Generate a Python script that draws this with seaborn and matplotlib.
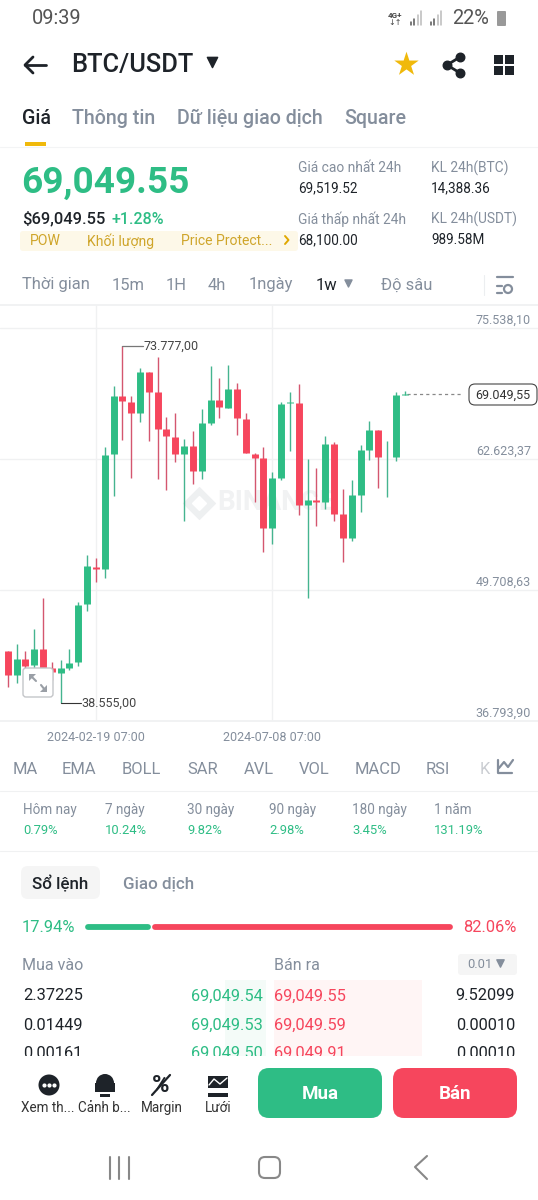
#!/usr/bin/env python3

import matplotlib
matplotlib.use("Agg")
import matplotlib.pyplot as plt
from matplotlib.patches import FancyBboxPatch, Rectangle, Circle, Polygon
import pandas
import seaborn as sns

GREEN = "#2ebd85"
RED = "#f6465d"
GRAY = "#848e9c"
DARK = "#1e2329"

# Weekly candles
opens = [39948, 43724, 41328, 42905, 42314, 43861, 42018, 41555, 41988, 42580, 48298, 52005,
         51749, 63086, 68834, 68272, 67158, 71171, 69258, 65551, 64821, 63086, 63905, 61411,
         66202, 68410, 67681, 69524, 66567, 63165, 62692, 55820, 60750, 68114, 68144, 58118,
         58581, 58384, 64131, 57230, 54835, 59074, 63481, 65512, 62790, 62790, 68982]
closes = [43724, 41328, 42905, 42245, 43861, 42018, 41624, 41988, 42511, 48259, 52074, 51749,
          63018, 68834, 68341, 67158, 71171, 69258, 65611, 64891, 63086, 63905, 61411, 66172,
          68410, 67720, 69524, 66635, 63185, 62722, 55820, 60720, 68075, 68213, 58118, 58581,
          58384, 64102, 57230, 54835, 59074, 63481, 65512, 62790, 62850, 68903, 69049.55]
highs = [43990, 43724, 44355, 43724, 45833, 48890, 42639, 42807, 43861, 48554, 53159, 52863,
         63836, 69850, 73777, 68834, 71624, 71171, 72650, 66734, 67129, 64595, 65413, 67553,
         71822, 70579, 71891, 70086, 67158, 63244, 63776, 61312, 68272, 69258, 69988, 62623,
         61706, 64861, 64328, 59695, 60523, 64033, 66370, 65512, 64398, 69258, 69357]
lows = [39652, 40174, 40509, 41821, 42018, 41624, 40835, 38555, 41821, 42245, 47667, 50497,
        50861, 58975, 64496, 60720, 66301, 64427, 60622, 59567, 62357, 56481, 60129, 60681,
        66005, 66635, 67621, 65019, 63185, 58354, 53425, 54243, 60583, 63412, 57072, 48949,
        56047, 57723, 56511, 52498, 54539, 57427, 62494, 59764, 58906, 62455, 68982]

grid_prices = [75538.10, 62623.37, 49708.63, 36793.90]
grid_labels = ["75.538,10", "62.623,37", "49.708,63", "36.793,90"]
date_idx = [11, 31]
date_labels = ["2024-02-19 07:00", "2024-07-08 07:00"]
high_idx, high_price, high_label = 14, 73777, "73.777,00"
low_idx, low_price, low_label = 7, 38555, "38.555,00"
last_price, last_label = 69049.55, "69.049,55"

main_tabs = [("Giá", 22), ("Thông tin", 72), ("Dữ liệu giao dịch", 177), ("Square", 344)]
intervals = [("Thời gian", 22), ("15m", 112), ("1H", 166), ("4h", 208), ("1ngày", 249),
             ("1w", 316), ("Độ sâu", 381)]
indicators = [("MA", 13), ("EMA", 62), ("BOLL", 122), ("SAR", 187), ("AVL", 244),
              ("VOL", 299), ("MACD", 355), ("RSI", 426)]
periods = [("Hôm nay", "0.79%", 23), ("7 ngày", "10.24%", 105), ("30 ngày", "9.82%", 187),
           ("90 ngày", "2.98%", 269), ("180 ngày", "3.45%", 352), ("1 năm", "131.19%", 434)]
book_rows = [("2.37225", "69,049.54", "69,049.55", "9.52099", 995),
             ("0.01449", "69,049.53", "69,049.59", "0.00010", 1024),
             ("0.00161", "69,049.50", "69,049.91", "0.00010", 1052)]
tools = [("Xem th...", 21), ("Cảnh b...", 78), ("Margin", 141), ("Lưới", 205)]
buy_share, sell_share = 17.94, 82.06

sns.set_theme(style="white")
plt.rcParams["font.family"] = ["Roboto", "Noto Sans", "DejaVu Sans"]

fig = plt.figure(figsize=(5.38, 12), dpi=100)

# Candle chart spans y 305..721 px, one candle every 8.82 px
ax = fig.add_axes([0, (1200 - 721) / 1200, 1, (721 - 305) / 1200])
px_per_price = 131 / (grid_prices[0] - grid_prices[1])

rows_wick = []
rows_body = []
for i in range(len(opens)):
    side = "up" if closes[i] >= opens[i] else "down"
    for p in (lows[i], highs[i]):
        rows_wick.append({"idx": i, "price": p, "candle": i, "side": side})
    for p in (opens[i], closes[i]):
        rows_body.append({"idx": i, "price": p, "candle": i, "side": side})
wicks = pandas.DataFrame(rows_wick)
bodies = pandas.DataFrame(rows_body)

sns.lineplot(data=wicks, x="idx", y="price", units="candle", hue="side", estimator=None,
             palette={"up": "#45b48f", "down": "#d4566f"}, linewidth=1.0, legend=False,
             sort=False, solid_capstyle="butt", ax=ax, zorder=3)
sns.lineplot(data=bodies, x="idx", y="price", units="candle", hue="side", estimator=None,
             palette={"up": GREEN, "down": RED}, linewidth=5.0, legend=False,
             sort=False, solid_capstyle="butt", ax=ax, zorder=4)

ax.set_xlim(0.125, 61.125)
ax.set_ylim(grid_prices[3], grid_prices[3] + 416 / px_per_price)
ax.set_xlabel("")
ax.set_ylabel("")
ax.set_yticks(grid_prices)
ax.set_yticklabels([])
ax.set_xticks(date_idx)
ax.set_xticklabels(date_labels, fontsize=9, color=GRAY)
ax.tick_params(axis="both", length=0, pad=7)
ax.grid(True, color="#f0f1f2", linewidth=1.0)
ax.set_axisbelow(True)
for name in ("left", "right"):
    ax.spines[name].set_visible(False)
for name in ("top", "bottom"):
    ax.spines[name].set_color("#f0f1f2")

for price, label in zip(grid_prices, grid_labels):
    ax.annotate(label, xy=(1, price), xycoords=ax.get_yaxis_transform(), xytext=(-7, 8),
                textcoords="offset pixels", ha="right", va="center", fontsize=9, color=GRAY)

# High, low and last price labels
ax.plot([high_idx, high_idx + 2.35], [high_price, high_price], color="#777777", lw=0.9, zorder=3)
ax.annotate(high_label, xy=(high_idx + 2.4, high_price), ha="left", va="center",
            fontsize=9, color="#444444")
ax.plot([low_idx, low_idx + 2.35], [low_price, low_price], color="#333333", lw=0.8, zorder=3)
ax.annotate(low_label, xy=(low_idx + 2.4, low_price), ha="left", va="center",
            fontsize=9, color="#444444")
ax.plot([46.3, 52.5], [last_price, last_price], color="#888888", lw=0.9, ls=(0, (2.5, 2.5)), zorder=3)

# Everything else is drawn on a pixel canvas above the chart
ui = fig.add_axes([0, 0, 1, 1], zorder=5)
ui.set_xlim(0, 538)
ui.set_ylim(1200, 0)
ui.axis("off")
ui.patch.set_alpha(0)

# Watermark sits under the candles, so it goes on the chart axes
ax.text(217, 503, "BINANCE", transform=ui.transData, fontsize=20, fontweight="bold",
        color="#f1f2f3", ha="left", va="center", zorder=1)
ax.scatter([199], [503], marker="D", s=260, color="#eef0f1", transform=ui.transData, zorder=1)
ax.scatter([199], [503], marker="D", s=50, color="white", transform=ui.transData, zorder=1.5)


def txt(x, y, s, px=14, color=GRAY, weight="normal", ha="left", **kw):
    ui.text(x, y + 1, s, fontsize=px * 0.72, color=color, fontweight=weight, ha=ha, va="center", **kw)


def box(x0, y0, x1, y1, face, radius=0, edge="none", lw=0, z=1):
    if radius:
        ui.add_patch(FancyBboxPatch((x0 + radius, y0 + radius), x1 - x0 - 2 * radius,
                                    y1 - y0 - 2 * radius, boxstyle=f"round,pad={radius}",
                                    fc=face, ec=edge, lw=lw, zorder=z))
    else:
        ui.add_patch(Rectangle((x0, y0), x1 - x0, y1 - y0, fc=face, ec=edge, lw=lw, zorder=z))


# Last price tag
box(469, 384, 537, 405, "white", radius=6, edge="#444444", lw=0.8)
txt(503, 394, last_label, px=12.5, color="#333333", ha="center", zorder=3)

# Expand button over the candles
box(23, 668, 53, 697, "white", radius=3, edge="#c4c6c9", lw=1)
ui.plot([31, 36], [676, 681], color="#9a9fa6", lw=1.5, zorder=3)
ui.plot([41, 45], [685, 690], color="#9a9fa6", lw=1.5, zorder=3)
ui.add_patch(Polygon([[29, 674], [36, 674], [29, 681]], fc="#9a9fa6", ec="none", zorder=3))
ui.add_patch(Polygon([[47, 692], [40, 692], [47, 685]], fc="#9a9fa6", ec="none", zorder=3))

# Status bar
txt(32, 18, "09:39", px=20, color="#555555")
txt(452, 18, "22%", px=20, color="#555555")
txt(395, 14, "4G+", px=8, color="#444444", ha="center", weight="bold")
txt(395, 22, "↓↑", px=8, color="#444444", ha="center")
for x0 in (411, 431):
    for k, h in enumerate([3, 6, 10, 14]):
        ui.plot([x0 + k * 3.4] * 2, [25, 25 - h], color="#555555" if k < 2 else "#bbbbbb", lw=1.1)
box(497, 11, 506, 26, "#999999", radius=1)

# Header
ui.plot([25, 46], [65, 65], color=DARK, lw=2)
ui.plot([33, 25, 33], [57, 65, 73], color=DARK, lw=2)
txt(71.5, 64, "BTC/USDT", px=25.5, color=DARK, weight="medium")
ui.scatter([212], [62], marker="v", s=55, color=DARK)
ui.scatter([406], [64], marker="*", s=340, color="#f0b90b", linewidths=0)
ui.plot([460, 447, 460], [57, 65, 73], color=DARK, lw=2)
ui.scatter([460, 447, 460], [57, 65, 73], s=38, color=DARK)
for bx, by in ((494, 55), (505, 55), (494, 66), (505, 66)):
    box(bx, by, bx + 8.5, by + 8.5, DARK)

# Tabs
for k, (label, x) in enumerate(main_tabs):
    txt(x, 117, label, px=19.6, color=DARK if k == 0 else GRAY, weight="medium")
box(25, 142, 46, 146, "#f0b90b")
ui.plot([0, 538], [147, 147], color="#f3f4f5", lw=0.8)

# Price block
txt(21, 182, "69,049.55", px=37, color=GREEN, weight="bold")
txt(22, 218, "$69,049.55", px=16.5, color=DARK, weight="medium")
txt(111, 218, "+1.28%", px=16, color=GREEN, weight="medium")
box(20, 231, 298, 251, "#fdf8e8", radius=3)
for label, x in (("POW", 30), ("Khối lượng", 87), ("Price Protect...", 181)):
    txt(x, 240, label, px=14, color="#cfa52a")
ui.plot([285, 288.5, 285], [236, 240, 244], color="#e0a800", lw=1.4)
for x, top, val_top, low, val_low in ((298, "Giá cao nhất 24h", "69,519.52", "Giá thấp nhất 24h", "68,100.00"),
                                      (431, "KL 24h(BTC)", "14,388.36", "KL 24h(USDT)", "989.58M")):
    txt(x, 167, top, px=13.7)
    txt(x, 187, val_top, px=13.5, color=DARK)
    txt(x, 218, low, px=13.7)
    txt(x, 239, val_low, px=13.5, color=DARK)

# Interval row
for label, x in intervals:
    txt(x, 284, label, px=16.5, color=DARK if label == "1w" else GRAY)
ui.scatter([348], [283], marker="v", s=26, color=GRAY)
ui.plot([484, 484], [275, 295], color="#eceef0", lw=0.8)
ui.plot([497, 513], [277, 277], color=GRAY, lw=1.6)
ui.plot([497, 502], [286, 286], color=GRAY, lw=1.6)
ui.plot([497, 502], [293, 293], color=GRAY, lw=1.6)
ui.add_patch(Circle((508, 289), 4, fc="white", ec=GRAY, lw=1.6))

# Indicator row
for label, x in indicators:
    txt(x, 768, label, px=16.5)
txt(480, 768, "K", px=16.5, color="#c9ccd1")
ui.plot([498, 498, 512], [760, 773, 773], color=GRAY, lw=1.6)
ui.plot([499, 504, 508, 513], [768, 762, 767, 760], color=GRAY, lw=1.6)
ui.plot([0, 538], [791, 791], color="#f0f1f2", lw=0.8)

# Period change row
for label, value, x in periods:
    txt(x, 809, label, px=13.5)
    txt(x, 830, value, px=13, color=GREEN)
ui.plot([0, 538], [851, 851], color="#f0f1f2", lw=0.8)

# Order book
box(21, 866, 100, 899, "#f5f5f5", radius=7)
txt(32, 883, "Sổ lệnh", px=17, color=DARK, weight="medium")
txt(123, 883, "Giao dịch", px=17, weight="medium")

txt(22, 927, f"{buy_share:.2f}%", px=16.5, color=GREEN)
txt(517, 927, f"{sell_share:.2f}%", px=16.5, color=RED, ha="right")
ui.plot([88, 147.5], [927, 927], color=GREEN, lw=4.2, solid_capstyle="round")
ui.plot([155, 450], [927, 927], color=RED, lw=4.2, solid_capstyle="round")

txt(22, 965, "Mua vào", px=16)
txt(274, 965, "Bán ra", px=16)
box(458, 954, 517, 975, "#f5f5f5", radius=3)
txt(467, 964, "0.01", px=13)
ui.scatter([500], [963], marker="v", s=28, color=GRAY)

box(274, 980, 422, 1056, "#fff5f5", z=0.5)
box(225, 980, 266, 1056, "#f4fbf8", z=0.5)
for qty, bid, ask, ask_qty, y in book_rows:
    txt(23, y, qty, px=16.4, color=DARK)
    txt(263, y, bid, px=16.4, color=GREEN, ha="right")
    txt(274, y, ask, px=16.4, color=RED)
    txt(515, y, ask_qty, px=16.4, color=DARK, ha="right")
box(0, 1056, 538, 1200, "white", z=4)

# Bottom bar, above the white cover
for label, x in tools:
    ui.text(x, 1108, label, fontsize=13.5 * 0.72, color="#333333", va="center", zorder=5)
ui.add_patch(Circle((49, 1085), 10.5, fc=DARK, ec="none", zorder=5))
ui.scatter([44, 49, 54], [1085, 1085, 1085], s=4, color="white", zorder=6)
ui.add_patch(Circle((105, 1083), 9, fc=DARK, ec="none", zorder=5))
box(95, 1083, 115, 1092, DARK, z=5)
box(100, 1094, 110, 1097, DARK, z=5)
ui.text(161, 1085, "%", fontsize=17, color=DARK, fontweight="bold", ha="center", va="center", zorder=5)
ui.plot([152, 170], [1095, 1075], color=DARK, lw=1.6, zorder=6)
ui.add_patch(Polygon([[208, 1076], [228, 1076], [228, 1088], [208, 1088]], fc=DARK, ec="none", zorder=5))
ui.plot([209, 214, 220, 227], [1085, 1079, 1084, 1078], color="white", lw=1, zorder=6)
box(208, 1093, 228, 1097, DARK, z=5)
box(258, 1068, 382, 1118, GREEN, radius=11, z=5)
box(393, 1068, 517, 1118, RED, radius=11, z=5)
ui.text(320, 1094, "Mua", fontsize=13.5, color="white", fontweight="bold", ha="center", va="center", zorder=6)
ui.text(455, 1094, "Bán", fontsize=13.5, color="white", fontweight="bold", ha="center", va="center", zorder=6)

# Nav bar
for x in (110, 119, 129):
    ui.plot([x, x], [1157, 1179], color="#888888", lw=1.5, zorder=5)
box(259, 1157, 280, 1178, "white", radius=6, edge="#888888", lw=1.5, z=5)
ui.plot([427, 415, 427], [1156, 1167, 1179], color="#888888", lw=1.5, zorder=5)

fig.savefig("out.png", dpi=100)
